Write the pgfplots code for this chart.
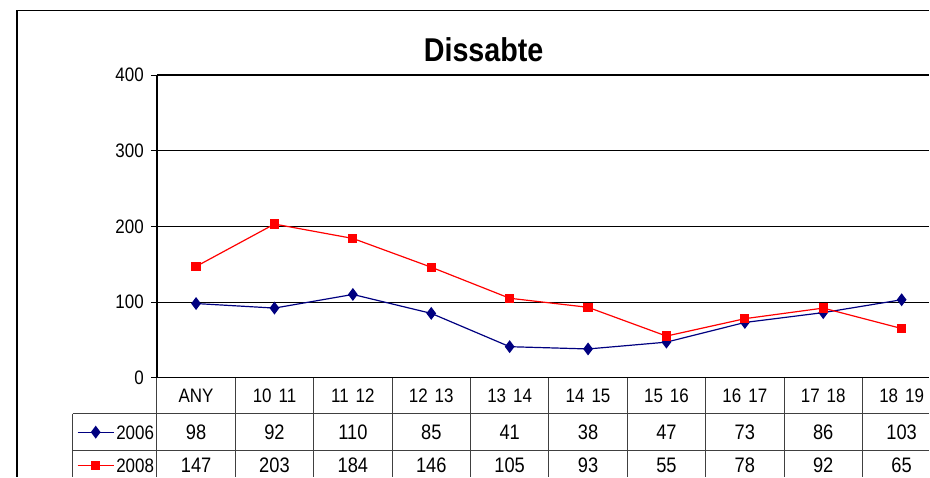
\documentclass[border=0pt]{standalone}
\usepackage{fontspec}
\setmainfont{Liberation Sans}[FakeStretch=0.87]
\usepackage{pgfplots}
\pgfplotsset{compat=1.18}
\usepackage{pgfplotstable}
\definecolor{navy}{RGB}{0,0,128}

% x: centre de cada columna; a: 2006; b: 2008
\pgfplotstableread{
x    a    b
0.5  98   147
1.5  92   203
2.5  110  184
3.5  85   146
4.5  41   105
5.5  38   93
6.5  47   55
7.5  73   78
8.5  86   92
9.5  103  65
}\dades

\begin{document}
\begin{tikzpicture}
\path (0pt,0pt) rectangle (930pt,477pt);
\draw[line width=1.3pt] (17pt,0pt) |- (930pt,466.5pt);
\node[anchor=base, font=\bfseries\fontsize{33}{36}\selectfont] at (484pt,415pt) {Dissabte};
\begin{axis}[
  at={(157pt,99pt)}, anchor=south west,
  scale only axis, width=773pt, height=303pt,
  xmin=0, xmax=9.853, ymin=0, ymax=400,
  clip=false,
  axis x line*=bottom, axis y line*=left,
  axis line style={line width=1.4pt, -},
  ytick={0,100,...,400},
  ymajorgrids, grid style={black, line width=0.8pt},
  tick align=outside, major tick length=6pt,
  y tick style={black, line width=0.8pt},
  xtick={0.5,1.5,...,9.5},
  xticklabels={ANY, 10\hspace{7pt}11, 11\hspace{7pt}12, 12\hspace{7pt}13, 13\hspace{7pt}14, 14\hspace{7pt}15, 15\hspace{7pt}16, 16\hspace{7pt}17, 17\hspace{7pt}18, 18\hspace{7pt}19},
  x tick style={draw=none},
  xticklabel style={anchor=center, yshift=-12pt, font=\fontsize{19.5}{22}\selectfont},
  yticklabel style={anchor=east, inner sep=0pt, xshift=-7pt, font=\fontsize{19.5}{22}\selectfont},
  /pgf/number format/assume math mode=true,
  legend style={at={(axis description cs:-0.1035,-0.2351)}, anchor=west, draw=none, fill=none,
    inner sep=0pt, row sep=19.5pt, column sep=2pt, font=\fontsize{19.5}{22}\selectfont,
    nodes={inner sep=0pt, text height=14pt, text depth=0pt}},
  legend image code/.code={\draw[mark repeat=2, mark phase=2] plot coordinates {(0pt,0pt) (18pt,0pt) (36pt,0pt)};},
]
\draw[line width=1.4pt] (rel axis cs:0,1) -- (rel axis cs:1,1);
\addplot[navy, line width=1.2pt, mark=diamond*, mark size=5.5pt] table[x=x, y=a] {\dades};
\addlegendentry{2006}
\addplot[red, line width=1.2pt, mark=square*, mark size=4pt] table[x=x, y=b] {\dades};
\addlegendentry{2008}
% taula de dades sota el grafic
\addplot[draw=none, mark=none, forget plot, nodes near coords, point meta=explicit symbolic,
  every node near coord/.append style={anchor=center, inner sep=0pt, font=\fontsize{21}{24}\selectfont}]
  table[x=x, y expr=-72.6, meta=a] {\dades};
\addplot[draw=none, mark=none, forget plot, nodes near coords, point meta=explicit symbolic,
  every node near coord/.append style={anchor=center, inner sep=0pt, font=\fontsize{21}{24}\selectfont}]
  table[x=x, y expr=-116.2, meta=b] {\dades};
\end{axis}
\draw[black!75, line width=0.9pt] (73pt,63pt) -- (930pt,63pt) (73pt,26pt) -- (930pt,26pt) (73pt,63pt) -- (73pt,0pt);
\foreach \k in {0,...,9} \draw[black!75, line width=0.9pt] ({157pt+78.45pt*\k},99pt) -- ({157pt+78.45pt*\k},0pt);
\end{tikzpicture}
\end{document}
